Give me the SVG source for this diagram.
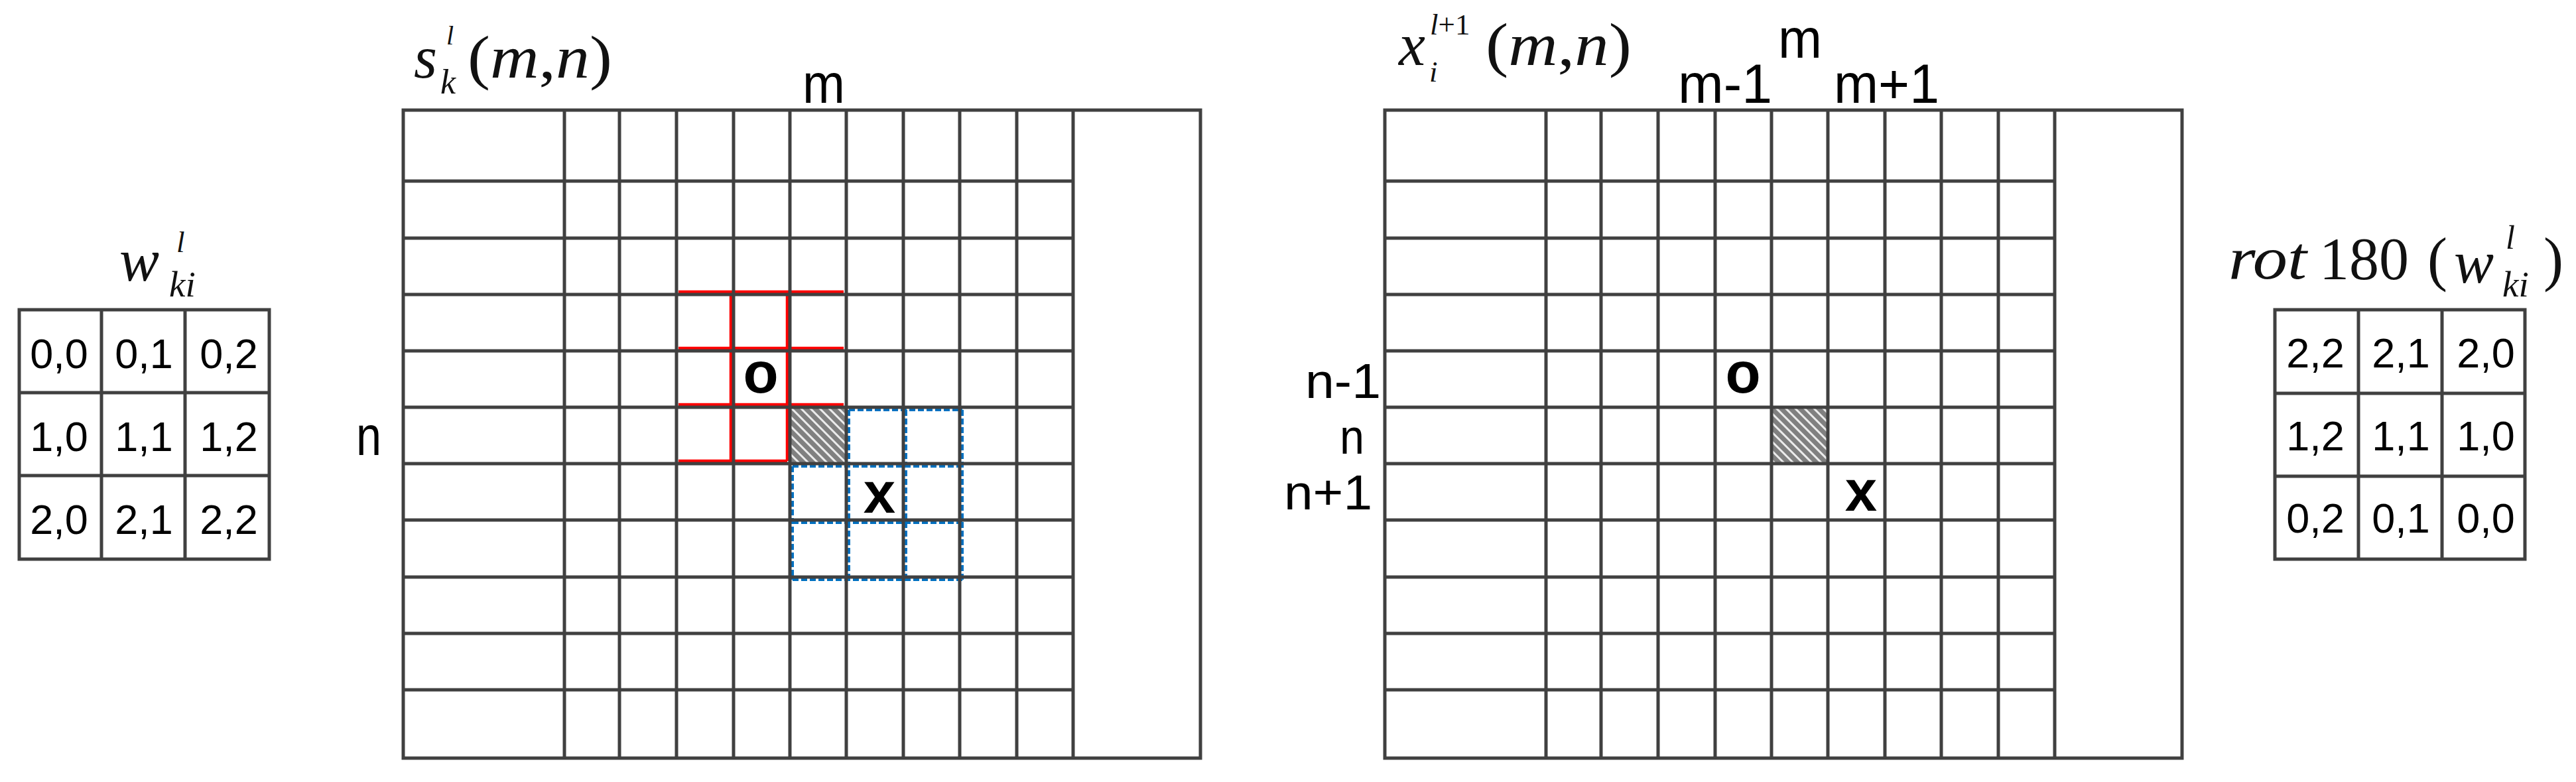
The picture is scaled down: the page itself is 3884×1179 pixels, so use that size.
<svg xmlns="http://www.w3.org/2000/svg" width="3884" height="1179" viewBox="0 0 3884 1179">
<style>
.grid{fill:none;stroke:#404040;stroke-width:5;stroke-linecap:square}
.red{fill:none;stroke:#FF0000;stroke-width:4.5}
.blue{fill:none;stroke:#0070C0;stroke-width:4;stroke-dasharray:9 4}
.num{font-family:"Liberation Sans",Arial,sans-serif;font-size:63px;text-anchor:middle;fill:#000}
.lbl{font-family:"Liberation Sans",Arial,sans-serif;font-size:84px;fill:#000}
.lbn{font-family:"Liberation Sans",Arial,sans-serif;font-size:74px;fill:#000}
.bold{font-family:"Liberation Sans",Arial,sans-serif;font-size:87px;font-weight:bold;text-anchor:middle;fill:#000}
.mi{font-family:"Liberation Serif","Times New Roman",serif;font-style:italic;fill:#111}
.mr{font-family:"Liberation Serif","Times New Roman",serif;font-style:normal;fill:#111}
</style>
<defs>
<pattern id="hatch" width="10" height="10" patternUnits="userSpaceOnUse" patternTransform="rotate(45)">
<rect width="10" height="10" fill="#808080"/>
<rect width="10" height="3" fill="#ffffff" opacity="0.85"/>
</pattern>
</defs>
<rect width="3884" height="1179" fill="#ffffff"/>

<!-- left kernel w -->
<g id="kernel-w">
<path class="grid" d="M29 467H406V843H29Z M153 467V843 M279 467V843 M29 592H406 M29 717H406"/>
<text class="num" x="89" y="555">0,0</text>
<text class="num" x="217" y="555">0,1</text>
<text class="num" x="345" y="555">0,2</text>
<text class="num" x="89" y="680">1,0</text>
<text class="num" x="217" y="680">1,1</text>
<text class="num" x="345" y="680">1,2</text>
<text class="num" x="89" y="805">2,0</text>
<text class="num" x="217" y="805">2,1</text>
<text class="num" x="345" y="805">2,2</text>
</g>
<g id="label-w">
<text class="mi" x="180" y="423" font-size="90">w</text>
<text class="mi" x="266" y="380" font-size="45">l</text>
<text class="mi" x="255" y="447" font-size="55">ki</text>
</g>

<!-- left feature map s -->
<g id="map-s">
<rect x="1191" y="614" width="85" height="85" fill="url(#hatch)"/>
<path class="red" d="M1023 440H1272 M1023 525H1272 M1023 610H1272 M1023 695H1187 M1102 440V695 M1187 440V695"/>
<path class="blue" d="M1280 618H1451 M1195 703H1451 M1195 788H1451 M1195 874H1451 M1195 703V874 M1280 618V874 M1366 618V874 M1451 618V874"/>
<path class="grid" d="M608 166H1810V1143H608Z M608 273H1618 M608 359H1618 M608 444H1618 M608 529H1618 M608 614H1618 M608 699H1618 M608 784H1618 M608 870H1618 M608 955H1618 M608 1040H1618 M851 166V1143 M934 166V1143 M1020 166V1143 M1106 166V1143 M1191 166V1143 M1276 166V1143 M1362 166V1143 M1447 166V1143 M1533 166V1143 M1618 166V1143"/>
<text class="bold" x="1147" y="592">o</text>
<text class="bold" x="1326" y="773">x</text>
<text class="lbl" x="1210" y="155" textLength="64" lengthAdjust="spacingAndGlyphs">m</text>
<text class="lbl" x="537" y="686" textLength="38" lengthAdjust="spacingAndGlyphs">n</text>
</g>
<g id="label-s">
<text class="mi" x="624" y="117" font-size="90">s</text>
<text class="mi" x="664" y="141" font-size="52">k</text>
<text class="mi" x="673" y="67" font-size="40">l</text>
<text class="mr" x="705" y="117" font-size="90" textLength="218" lengthAdjust="spacingAndGlyphs">(<tspan class="mi">m</tspan>,<tspan class="mi">n</tspan>)</text>
</g>

<!-- right feature map x -->
<g id="map-x">
<rect x="2671" y="614" width="85" height="85" fill="url(#hatch)"/>
<path class="grid" d="M2088 166H3290V1143H2088Z M2088 273H3098 M2088 359H3098 M2088 444H3098 M2088 529H3098 M2088 614H3098 M2088 699H3098 M2088 784H3098 M2088 870H3098 M2088 955H3098 M2088 1040H3098 M2331 166V1143 M2414 166V1143 M2500 166V1143 M2586 166V1143 M2671 166V1143 M2756 166V1143 M2842 166V1143 M2927 166V1143 M3013 166V1143 M3098 166V1143"/>
<text class="bold" x="2628" y="592">o</text>
<text class="bold" x="2806" y="770">x</text>
<text class="lbl" x="2681" y="87" textLength="66" lengthAdjust="spacingAndGlyphs">m</text>
<text class="lbl" x="2530" y="155" textLength="142" lengthAdjust="spacingAndGlyphs">m-1</text>
<text class="lbl" x="2765" y="155" textLength="159" lengthAdjust="spacingAndGlyphs">m+1</text>
<text class="lbn" x="1968" y="600" textLength="114" lengthAdjust="spacingAndGlyphs">n-1</text>
<text class="lbn" x="2020" y="684" textLength="37" lengthAdjust="spacingAndGlyphs">n</text>
<text class="lbn" x="1936" y="768" textLength="133" lengthAdjust="spacingAndGlyphs">n+1</text>
</g>
<g id="label-x">
<text class="mi" x="2109" y="98" font-size="90">x</text>
<text class="mi" x="2156" y="52" font-size="45">l<tspan class="mr">+1</tspan></text>
<text class="mi" x="2155" y="123" font-size="45">i</text>
<text class="mr" x="2240" y="98" font-size="90" textLength="220" lengthAdjust="spacingAndGlyphs">(<tspan class="mi">m</tspan>,<tspan class="mi">n</tspan>)</text>
</g>

<!-- right rotated kernel -->
<g id="kernel-rot">
<path class="grid" d="M3430 467H3807V843H3430Z M3556 467V843 M3682 467V843 M3430 593H3807 M3430 718H3807"/>
<text class="num" x="3491" y="554">2,2</text>
<text class="num" x="3620" y="554">2,1</text>
<text class="num" x="3748" y="554">2,0</text>
<text class="num" x="3491" y="679">1,2</text>
<text class="num" x="3620" y="679">1,1</text>
<text class="num" x="3748" y="679">1,0</text>
<text class="num" x="3491" y="803">0,2</text>
<text class="num" x="3620" y="803">0,1</text>
<text class="num" x="3748" y="803">0,0</text>
</g>
<g id="label-rot">
<text class="mi" x="3360" y="420" font-size="90" textLength="118" lengthAdjust="spacingAndGlyphs">rot</text>
<text class="mr" x="3497" y="421" font-size="90">180</text>
<text class="mr" x="3660" y="421" font-size="90">(</text>
<text class="mi" x="3700" y="426" font-size="90">w</text>
<text class="mi" x="3778" y="375" font-size="50">l</text>
<text class="mi" x="3773" y="447" font-size="55">ki</text>
<text class="mr" x="3835" y="421" font-size="90">)</text>
</g>
<g id="connectors"/>
</svg>
